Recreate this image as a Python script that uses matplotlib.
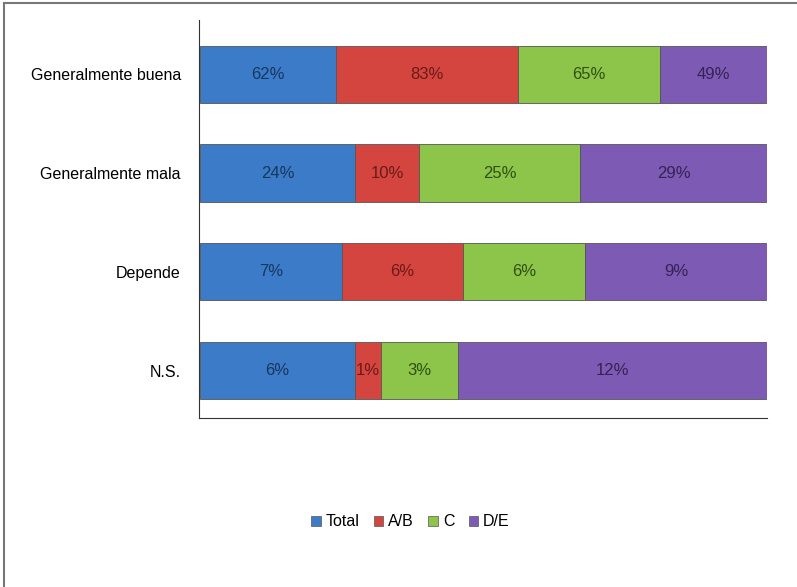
import matplotlib.pyplot as plt
import matplotlib as mpl
from matplotlib.lines import Line2D
from matplotlib.patches import Patch

mpl.rcParams['font.family'] = ['Liberation Sans', 'DejaVu Sans']

categories = ["Generalmente buena", "Generalmente mala", "Depende", "N.S."]
series = ["Total", "A/B", "C", "D/E"]
total = [62, 24, 7, 6]
ab = [83, 10, 6, 1]
c = [65, 25, 6, 3]
de = [49, 29, 9, 12]

colors = ['#3b7bc8', '#d54540', '#8dc54b', '#7d5ab4']
text_colors = ['#17375e', '#6b1a18', '#2f4f12', '#352255']

fig = plt.figure(figsize=(7.97, 5.87), dpi=100)
ax = fig.add_axes([0.2497, 0.288, 0.9624 - 0.2497, 0.678])

values = [total, ab, c, de]
ypos = list(range(len(categories)))
row_sums = [sum(v[i] for v in values) for i in ypos]
left = [0.0] * len(categories)
for s, vals in enumerate(values):
    widths = [vals[i] / row_sums[i] for i in ypos]
    ax.barh(ypos, widths, left=left, height=0.58, color=colors[s],
            edgecolor='#555555', linewidth=0.6, label=series[s])
    for i in ypos:
        ax.text(left[i] + widths[i] / 2, ypos[i], f"{vals[i]}%",
                ha='center', va='center', fontsize=12, color=text_colors[s])
    left = [left[i] + widths[i] for i in ypos]

ax.set_xlim(-0.002, 1.0)
ax.set_ylim(3.48, -0.55)
ax.set_yticks(ypos)
ax.set_yticklabels(categories, fontsize=11.5)
ax.tick_params(axis='y', length=0, pad=13)
ax.set_xticks([])
ax.spines['top'].set_visible(False)
ax.spines['right'].set_visible(False)
ax.spines['left'].set_color('#333333')
ax.spines['bottom'].set_color('#333333')

handles = [Patch(facecolor=colors[i], edgecolor='#555555', linewidth=0.5) for i in range(4)]
fig.legend(handles, series, loc='center', bbox_to_anchor=(0.515, 0.111), ncol=4,
           frameon=False, fontsize=11.5, handlelength=0.6, handleheight=0.6,
           handletextpad=0.3, columnspacing=0.9)

# outer frame (left and top edges)
fig.add_artist(Line2D([0.005, 0.005], [0, 0.995], transform=fig.transFigure, color='#777777', lw=1.5))
fig.add_artist(Line2D([0.005, 1.0], [0.995, 0.995], transform=fig.transFigure, color='#777777', lw=1.5))

fig.savefig("out.png", dpi=100)
